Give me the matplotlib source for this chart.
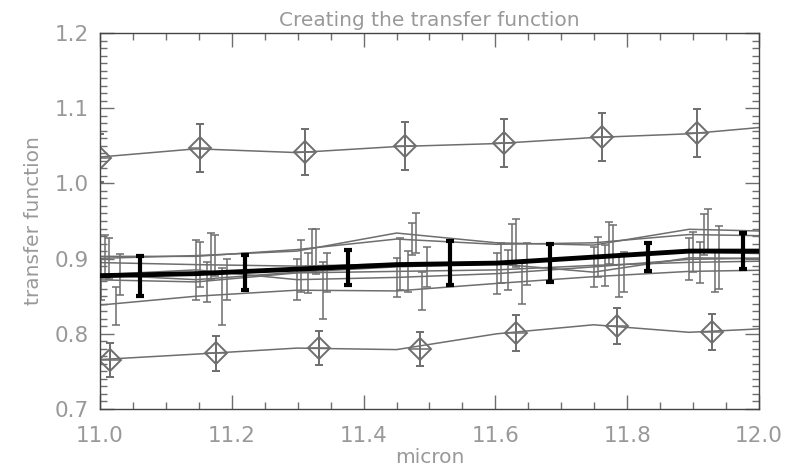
"""Transfer function: several gray calibration curves, two outliers with
diamond markers and the thick black mean with its error bars."""

import matplotlib
matplotlib.use("Agg")
import matplotlib.pyplot as plt
import numpy as np
from matplotlib.ticker import MultipleLocator, FormatStrFormatter

# wavelength grid (micron) where the curves are sampled
wave = [10.985, 11.146, 11.299, 11.450, 11.602, 11.749, 11.894, 12.035]

# middle gray curves, values at the grid points
gray_curves = [
    [0.878, 0.885, 0.872, 0.875, 0.880, 0.889, 0.899, 0.901],
    [0.895, 0.892, 0.890, 0.893, 0.894, 0.902, 0.909, 0.906],
    [0.872, 0.869, 0.881, 0.883, 0.885, 0.891, 0.895, 0.897],
    [0.903, 0.903, 0.912, 0.926, 0.919, 0.921, 0.932, 0.930],
    [0.900, 0.904, 0.910, 0.934, 0.921, 0.918, 0.939, 0.936],
    [0.837, 0.850, 0.858, 0.857, 0.867, 0.876, 0.883, 0.885],
    [0.879, 0.872, 0.882, 0.889, 0.893, 0.882, 0.901, 0.900],
]
# x shift of each curve's error bars (micron)
gray_shift = [0.000, 0.006, 0.017, 0.023, 0.029, 0.039, 0.046]
gray_err = [
    [0.028, 0.040, 0.027, 0.026, 0.027, 0.027, 0.028],
    [0.028, 0.030, 0.035, 0.035, 0.027, 0.027, 0.027],
    [0.027, 0.027, 0.027, 0.027, 0.027, 0.027, 0.027],
    [0.029, 0.031, 0.027, 0.021, 0.027, 0.028, 0.027],
    [0.027, 0.027, 0.030, 0.027, 0.032, 0.027, 0.027],
    [0.025, 0.038, 0.038, 0.025, 0.027, 0.027, 0.027],
    [0.027, 0.027, 0.026, 0.027, 0.028, 0.027, 0.042],
]

# high outlier (diamonds)
high_line = [1.034, 1.046, 1.041, 1.049, 1.053, 1.061, 1.066, 1.077]
high_x = [11.000, 11.152, 11.311, 11.463, 11.613, 11.762, 11.906]
high_y = [1.034, 1.047, 1.042, 1.050, 1.054, 1.062, 1.067]
high_err = [0.032, 0.032, 0.031, 0.032, 0.032, 0.032, 0.032]

# low outlier (diamonds)
low_line = [0.765, 0.773, 0.781, 0.779, 0.800, 0.812, 0.802, 0.808]
low_x = [11.015, 11.176, 11.332, 11.486, 11.632, 11.785, 11.929]
low_y = [0.765, 0.774, 0.781, 0.780, 0.801, 0.810, 0.802]
low_err = [0.023, 0.023, 0.023, 0.023, 0.024, 0.024, 0.024]

# mean transfer function
mean_line = [0.877, 0.880, 0.886, 0.892, 0.894, 0.902, 0.910, 0.910]
mean_x = [11.061, 11.220, 11.376, 11.531, 11.683, 11.832, 11.976]
mean_y = [0.877, 0.8815, 0.888, 0.894, 0.894, 0.902, 0.910]
mean_err = [0.027, 0.023, 0.023, 0.029, 0.025, 0.019, 0.024]

GRAY = "#6e6e6e"
TEXT = "#999999"

plt.rcParams["font.family"] = ["DejaVu Sans"]

fig = plt.figure(figsize=(7.89, 4.73), dpi=100)
ax = fig.add_axes([0.1267, 0.1353, 0.8353, 0.7949])

w = np.array(wave)
for vals, dx, err in zip(gray_curves, gray_shift, gray_err):
    ax.plot(w, vals, color=GRAY, lw=1.1)
    ax.errorbar(w[:7] + dx, vals[:7], yerr=err, fmt="none", ecolor=GRAY,
                elinewidth=1.1, capsize=3, capthick=1.1)

for line, xs, ys, err in [(high_line, high_x, high_y, high_err),
                          (low_line, low_x, low_y, low_err)]:
    ax.plot(w, line, color=GRAY, lw=1.1)
    ax.errorbar(xs, ys, yerr=err, fmt="none", ecolor=GRAY,
                elinewidth=1.4, capsize=3, capthick=1.4)
    ax.plot(xs, ys, ls="none", marker="D", ms=11.5, mfc="none", mec=GRAY, mew=1.4)
    ax.plot(xs, ys, ls="none", marker="+", ms=14, mec=GRAY, mew=1.1)

ax.plot(w, mean_line, color="black", lw=3.5, zorder=5)
ax.errorbar(mean_x, mean_y, yerr=mean_err, fmt="none", ecolor="black",
            elinewidth=3.0, capsize=3, capthick=3, zorder=6)

ax.set_xlim(11.0, 12.0)
ax.set_ylim(0.7, 1.2)
ax.xaxis.set_major_locator(MultipleLocator(0.2))
ax.xaxis.set_minor_locator(MultipleLocator(0.05))
ax.yaxis.set_major_locator(MultipleLocator(0.1))
ax.yaxis.set_minor_locator(MultipleLocator(0.01))
ax.xaxis.set_major_formatter(FormatStrFormatter("%.1f"))
ax.yaxis.set_major_formatter(FormatStrFormatter("%.1f"))

ax.tick_params(which="both", direction="in", top=True, right=True,
               color=GRAY, labelcolor=TEXT, labelsize=15.5)
ax.tick_params(which="major", length=10, width=1)
ax.tick_params(which="minor", length=5, width=1)
ax.tick_params(axis="x", pad=12)
ax.tick_params(axis="y", pad=8)
for side in ax.spines.values():
    side.set_color("#444444")
    side.set_linewidth(1.0)

ax.set_title("Creating the transfer function", color=TEXT, fontsize=14.5, pad=5)
ax.set_xlabel("micron", color=TEXT, fontsize=14.5, labelpad=2)
ax.set_ylabel("transfer function", color=TEXT, fontsize=14.5, labelpad=8)

fig.savefig("out.png", dpi=100)
